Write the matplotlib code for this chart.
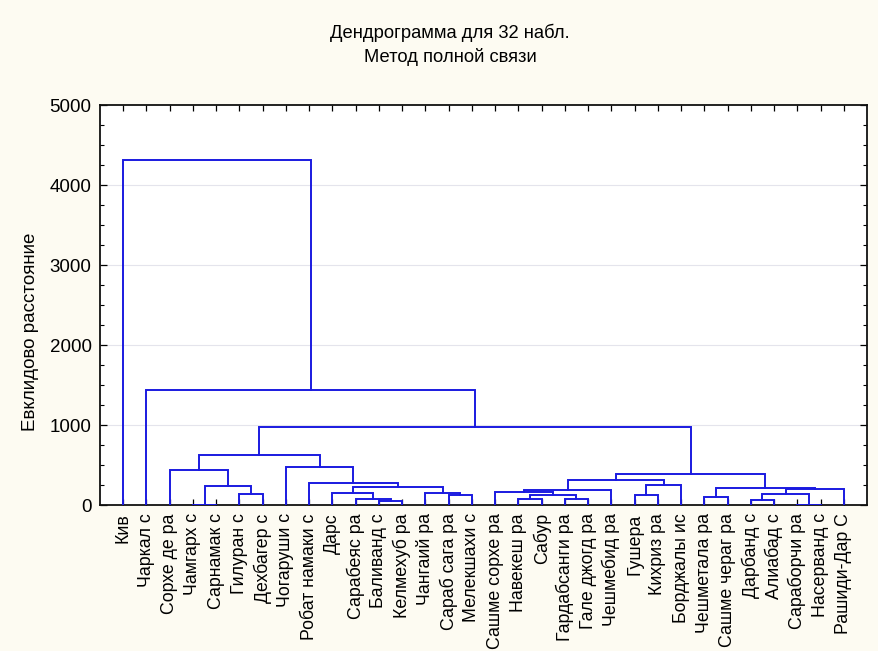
import matplotlib
matplotlib.use("Agg")
import matplotlib.pyplot as plt
from matplotlib import font_manager
import numpy as np

labels = ["Кив", "Чаркал с", "Сорхе де ра", "Чамгарх с", "Сарнамак с", "Гилуран с",
          "Дехбагер с", "Чогаруши с", "Робат намаки с", "Дарс", "Сарабеяс ра",
          "Баливанд с", "Келмехуб ра", "Чангаий ра", "Сараб сага ра", "Мелекшахи с",
          "Сашме сорхе ра", "Навекеш ра", "Сабур", "Гардабсанги ра", "Гале джогд ра",
          "Чешмебид ра", "Гушера", "Кихриз ра", "Борджалы ис", "Чешметала ра",
          "Сашме чераг ра", "Дарбанд с", "Алиабад с", "Сараборчи ра", "Насерванд с",
          "Рашиди-Дар С"]

# linkage: node ids 0..31 are leaves, 32.. are merges in order
merge_left = [3, 5, 32, 2, 11, 10, 9, 14, 13, 38, 8, 7, 35,
              17, 19, 45, 16, 48, 22, 50, 49, 25, 27, 29, 54, 56, 53, 52, 44, 1, 0]
merge_right = [4, 6, 33, 34, 12, 36, 37, 15, 39, 40, 41, 42, 43,
               18, 20, 46, 47, 21, 23, 24, 51, 26, 28, 30, 55, 31, 57, 58, 59, 60, 61]
merge_height = [5, 137, 237, 437, 50, 79, 154, 125, 154, 229, 271, 472, 620,
                71, 79, 125, 167, 187, 125, 250, 312, 96, 62, 5, 137, 200, 217, 384,
                975, 1437, 4312]

avail = {f.name for f in font_manager.fontManager.ttflist}
base = "Liberation Sans" if "Liberation Sans" in avail else "DejaVu Sans"
narrow = "Liberation Sans Narrow" if "Liberation Sans Narrow" in avail else base
plt.rcParams["font.family"] = [base, "DejaVu Sans"]

W, H = 879, 651
fig = plt.figure(figsize=(W / 100, H / 100), dpi=100)
fig.patch.set_facecolor("#fdfbf2")
ax = fig.add_axes([100 / W, 1 - 505 / H, 767 / W, 400 / H])
ax.set_facecolor("white")

n = len(labels)
xpos = {i: i + 1 for i in range(n)}
hpos = {i: 0.0 for i in range(n)}
line_color = "#1a1ae0"
for k, (a, b, h) in enumerate(zip(merge_left, merge_right, merge_height)):
    node = n + k
    xa, xb = xpos[a], xpos[b]
    ax.plot([xa, xa, xb, xb], [hpos[a], h, h, hpos[b]], color=line_color,
            lw=1.4, solid_joinstyle="miter", zorder=3)
    xpos[node] = (xa + xb) / 2
    hpos[node] = h

ax.set_xlim(0, n + 1)
ax.set_ylim(0, 5000)
ax.set_xticks(np.arange(1, n + 1))
ax.set_xticklabels(labels, rotation=90, fontsize=12.8)
ax.set_yticks(np.arange(0, 5001, 1000))
ax.set_yticks(np.arange(0, 5001, 250), minor=True)
ax.tick_params(axis="y", labelsize=13.5, direction="in", length=5, width=0.9,
               pad=6, right=True)
ax.tick_params(axis="y", which="minor", direction="in", length=3, width=0.8, right=True)
ax.tick_params(axis="x", direction="in", length=4, width=0.9, pad=6, top=True)
for y in range(1000, 5000, 1000):
    ax.axhline(y, color="#e4e4ec", lw=0.8, zorder=1)
for s in ax.spines.values():
    s.set_linewidth(1.3)
    s.set_color("#111111")

fig.text(450 / W, 1 - 33 / H, "Дендрограмма для 32 набл.", ha="center", va="center",
         fontsize=13.2, family=[narrow, "DejaVu Sans"])
fig.text(450 / W, 1 - 57 / H, "Метод полной связи", ha="center", va="center",
         fontsize=13.2, family=[narrow, "DejaVu Sans"])
fig.text(31 / W, 1 - 332 / H, "Евклидово расстояние", rotation=90, ha="center",
         va="center", fontsize=13.5)

fig.savefig("out.png", dpi=100, facecolor=fig.get_facecolor())
